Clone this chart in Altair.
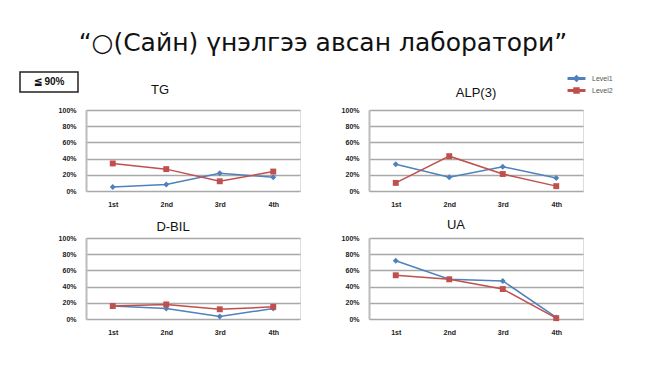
import altair as alt
import pandas as pd

quarters = ["1st", "2nd", "3rd", "4th"]
series = ["Level1", "Level2"]
tg_l1 = [5, 8, 22, 17]
tg_l2 = [34, 27, 12, 24]
alp_l1 = [33, 17, 30, 16]
alp_l2 = [10, 43, 21, 6]
dbil_l1 = [16, 13, 3, 13]
dbil_l2 = [16, 18, 12, 15]
ua_l1 = [72, 49, 47, 2]
ua_l2 = [54, 49, 37, 1]

BLUE = "#4F81BD"
RED = "#C0504D"
FONT = "Liberation Sans"

# legend symbols: a short line with the marker on it
LEG_SHAPES = ["M-3,-0.25H3V0.25H-3ZM0,-1L1,0L0,1L-1,0Z",
              "M-3,-0.25H3V0.25H-3ZM-0.9,-0.9H0.9V0.9H-0.9Z"]
MARKERS = ["diamond", "square"]


def make_df(l1, l2):
    rows = []
    for s, vals in zip(series, [l1, l2]):
        for q, v in zip(quarters, vals):
            rows.append({"q": q, "v": v / 100.0, "series": s})
    return pd.DataFrame(rows)


LEG = dict(title=None, orient="none", legendX=487, legendY=-35,
           labelFont=FONT, labelFontSize=7, labelColor="#555", labelOffset=12,
           symbolSize=30, rowPadding=0, symbolOpacity=1)


def panel(l1, l2, title, dx=0, offset=6, badge=False):
    df = make_df(l1, l2)
    base = alt.Chart(df).encode(
        x=alt.X("q:N", sort=quarters, title=None,
                scale=alt.Scale(type="point", padding=0.5),
                axis=alt.Axis(labelAngle=0, ticks=False, domain=False, grid=False,
                              labelFont=FONT, labelFontSize=7, labelFontWeight="bold",
                              labelColor="#222", labelPadding=9)),
        y=alt.Y("v:Q", title=None, scale=alt.Scale(domain=[0, 1]),
                axis=alt.Axis(values=[0, 0.2, 0.4, 0.6, 0.8, 1.0], format=".0%",
                              ticks=False, domain=True, domainColor="#BBBBBB", domainWidth=2,
                              grid=True, gridColor="#A8A8A8", gridWidth=1.5,
                              labelFont=FONT, labelFontSize=7, labelFontWeight="bold",
                              labelColor="#222", labelPadding=10)),
        color=alt.Color("series:N", scale=alt.Scale(domain=series, range=[BLUE, RED]),
                        legend=alt.Legend(**LEG)),
    )
    line = base.mark_line(strokeWidth=1.5)
    leg = base.mark_point(filled=True, size=30, opacity=0).encode(
        shape=alt.Shape("series:N", scale=alt.Scale(domain=series, range=LEG_SHAPES),
                        legend=alt.Legend(**LEG)))
    pts = [base.transform_filter(alt.datum.series == s).mark_point(
        filled=True, size=35, opacity=1, shape=m) for s, m in zip(series, MARKERS)]
    layers = [line] + pts + [leg]
    if badge:
        box = alt.Chart(pd.DataFrame({"t": ["≦ 90%"]})).mark_rect(
            fill="white", stroke="#222", strokeWidth=1.5).encode(
            x=alt.value(-66), x2=alt.value(-8), y=alt.value(-38), y2=alt.value(-18))
        txt = alt.Chart(pd.DataFrame({"t": ["≦ 90%"]})).mark_text(
            font=FONT, fontSize=10, fontWeight="bold", color="#111").encode(
            x=alt.value(-37), y=alt.value(-28), text="t:N")
        layers = [box, txt] + layers
    return alt.layer(*layers).properties(
        width=214, height=81,
        title=alt.TitleParams(title, fontSize=13, font=FONT, fontWeight="normal",
                              color="#111", dx=dx, offset=offset))


chart = alt.concat(
    panel(tg_l1, tg_l2, "TG", dx=-33, offset=-26, badge=True),
    panel(alp_l1, alp_l2, "ALP(3)", dx=0, offset=6),
    panel(dbil_l1, dbil_l2, "D-BIL", dx=-20, offset=0),
    panel(ua_l1, ua_l2, "UA", dx=-20, offset=2),
    columns=2, spacing={"row": 47, "column": 69}, bounds="flush",
).properties(
    title=alt.TitleParams("“○(Сайн) үнэлгээ авсан лаборатори”", fontSize=25, font="DejaVu Sans",
                          fontWeight="normal", color="#111", anchor="middle", offset=15, dx=7),
    padding={"left": 18, "top": 30, "right": 5, "bottom": 5},
).configure_view(stroke=None).configure(background="white")

chart.save("out.html", embed_options={"renderer": "svg", "actions": False})
